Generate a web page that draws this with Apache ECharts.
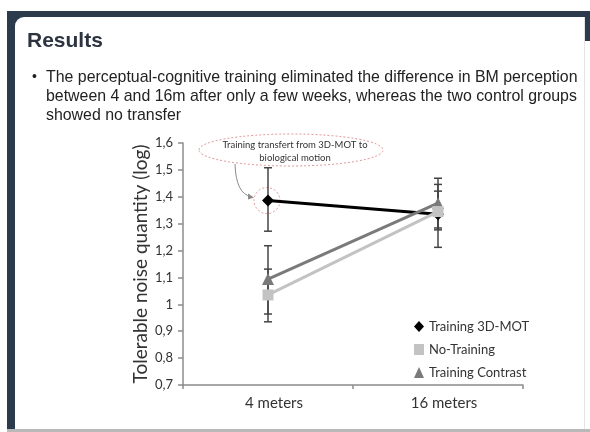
<!DOCTYPE html>
<html>
<head>
<meta charset="utf-8">
<script src="https://cdn.jsdelivr.net/npm/echarts@6/dist/echarts.min.js"></script>
<style>
html,body{margin:0;padding:0;background:#fff;}
#chart{width:590px;height:432px;}
</style>
</head>
<body>
<div id="chart"></div>
<script>
// ---- data ----
const categories = ['4 meters', '16 meters'];
const seriesNames = ['Training 3D-MOT', 'No-Training', 'Training Contrast'];
const mot = [1.386, 1.335];
const motLow = [1.272, 1.212];
const motHigh = [1.508, 1.446];
const noTrain = [1.035, 1.345];
const noTrainLow = [0.935, 1.277];
const noTrainHigh = [1.131, 1.421];
const contrast = [1.094, 1.376];
const contrastLow = [0.964, 1.284];
const contrastHigh = [1.218, 1.469];
const yMin = 0.7, yMax = 1.6, yStep = 0.1;
const titleText = 'Results';
const bulletLines = [
  'The perceptual-cognitive training eliminated the difference in BM perception',
  'between 4 and 16m after only a few weeks, whereas the two control groups',
  'showed no transfer'
];
const annotationLines = ['Training transfert from 3D-MOT to', 'biological motion'];

const chartFont = 'Lato';
const chart = echarts.init(document.getElementById('chart'));

function errData(lo, hi) {
  return categories.map((c, i) => [i, lo[i], hi[i]]);
}
function errSeries(lo, hi) {
  return {
    type: 'custom',
    silent: true,
    z: 1,
    data: errData(lo, hi),
    encode: { x: 0, y: [1, 2] },
    renderItem: function (params, api) {
      const x = api.value(0);
      const p1 = api.coord([x, api.value(1)]);
      const p2 = api.coord([x, api.value(2)]);
      const w = 4;
      const st = { stroke: '#444', lineWidth: 1.5 };
      return {
        type: 'group',
        children: [
          { type: 'line', shape: { x1: p1[0], y1: p1[1], x2: p2[0], y2: p2[1] }, style: st },
          { type: 'line', shape: { x1: p1[0] - w, y1: p1[1], x2: p1[0] + w, y2: p1[1] }, style: st },
          { type: 'line', shape: { x1: p2[0] - w, y1: p2[1], x2: p2[0] + w, y2: p2[1] }, style: st }
        ]
      };
    }
  };
}

const navy = '#2c3b4c';
const option = {
  animation: false,
  textStyle: { fontFamily: chartFont },
  grid: { left: 183, right: 67, top: 143, bottom: 47 },
  xAxis: {
    type: 'category',
    data: categories,
    boundaryGap: true,
    axisLine: { lineStyle: { color: '#8c8c8c', width: 1.5 } },
    axisTick: { show: true, length: 4, lineStyle: { color: '#8c8c8c', width: 1.5 } },
    axisLabel: { color: '#333', fontSize: 15, fontFamily: chartFont, margin: 11, padding: [0, 0, 0, 12] }
  },
  yAxis: {
    type: 'value',
    min: yMin, max: yMax, interval: yStep,
    name: 'Tolerable noise quantity (log)',
    nameLocation: 'middle',
    nameGap: 33,
    nameMoveOverlap: false,
    nameTextStyle: { color: '#333', fontSize: 19, fontFamily: chartFont },
    splitLine: { show: false },
    axisLine: { show: true, lineStyle: { color: '#8c8c8c', width: 1.5 } },
    axisTick: { show: true, length: 5, lineStyle: { color: '#8c8c8c', width: 1.5 } },
    axisLabel: {
      color: '#333', fontSize: 13, fontFamily: chartFont, margin: 10,
      formatter: v => String(Number(v.toFixed(1))).replace('.', ',')
    }
  },
  legend: {
    orient: 'vertical',
    left: 409, top: 315,
    itemGap: 10,
    itemWidth: 10, itemHeight: 11,
    textStyle: { color: '#333', fontSize: 13, fontFamily: chartFont },
    data: [
      { name: seriesNames[0], icon: 'diamond' },
      { name: seriesNames[1], icon: 'rect' },
      { name: seriesNames[2], icon: 'triangle' }
    ]
  },
  series: [
    errSeries(motLow, motHigh),
    errSeries(noTrainLow, noTrainHigh),
    errSeries(contrastLow, contrastHigh),
    {
      name: seriesNames[0], type: 'line', data: mot, z: 3,
      symbol: 'diamond', symbolSize: 12,
      itemStyle: { color: '#000' }, lineStyle: { color: '#000', width: 3 }
    },
    {
      name: seriesNames[2], type: 'line', data: contrast, z: 4,
      symbol: 'triangle', symbolSize: 12,
      itemStyle: { color: '#7a7a7a' }, lineStyle: { color: '#7a7a7a', width: 3 }
    },
    {
      name: seriesNames[1], type: 'line', data: noTrain, z: 5,
      symbol: 'rect', symbolSize: 11,
      itemStyle: { color: '#c3c3c3' }, lineStyle: { color: '#c3c3c3', width: 3 }
    }
  ]
};
chart.setOption(option);

// annotation positions derived from the chart's coordinate system
const ptMot = chart.convertToPixel({ seriesIndex: 3 }, [0, mot[0]]);

const graphics = [
  // slide frame
  { type: 'rect', z: -10, shape: { x: 7, y: 11, width: 583, height: 30 }, style: { fill: navy } },
  { type: 'rect', z: -10, shape: { x: 7, y: 11, width: 8, height: 418 }, style: { fill: navy } },
  { type: 'rect', z: -9, shape: { x: 15, y: 17, width: 569, height: 412, r: [9, 0, 0, 0] }, style: { fill: '#fff' } },
  { type: 'line', z: -8, shape: { x1: 584.5, y1: 17, x2: 584.5, y2: 429 }, style: { stroke: '#e4e4e4', lineWidth: 1 } },
  { type: 'rect', z: -8, shape: { x: 7, y: 429, width: 583, height: 3 }, style: { fill: '#b9b9b9' } },
  // title and bullet text
  { type: 'text', x: 27, y: 41, style: { text: titleText, font: 'bold 21px "Liberation Sans", Arial, sans-serif', fill: '#2c3440', verticalAlign: 'middle' } },
  { type: 'text', x: 32, y: 77, style: { text: '•', font: '14px "Liberation Sans", Arial, sans-serif', fill: '#222', verticalAlign: 'middle' } },
  ...bulletLines.map((t, i) => ({
    type: 'text', x: 46, y: 78 + i * 19,
    style: { text: t, font: '15.9px "Liberation Sans", Arial, sans-serif', fill: '#222', verticalAlign: 'middle' }
  })),
  // annotation ellipse + text
  { type: 'ellipse', shape: { cx: 291, cy: 150, rx: 92, ry: 16 }, style: { fill: 'none', stroke: '#e39a9a', lineWidth: 1, lineDash: [2, 2] } },
  ...annotationLines.map((t, i) => ({
    type: 'text', x: 295, y: 145 + i * 13,
    style: { text: t, font: '9.5px ' + chartFont, fill: '#333', align: 'center', verticalAlign: 'middle' }
  })),
  // circle around highlighted point
  { type: 'circle', shape: { cx: ptMot[0] - 1, cy: ptMot[1], r: 13 }, style: { fill: 'none', stroke: '#e39a9a', lineWidth: 1, lineDash: [2, 2] } },
  // curved arrow
  { type: 'bezierCurve', shape: { x1: 235, y1: 164, cpx1: 236, cpy1: 194, x2: ptMot[0] - 17, y2: ptMot[1] - 4 }, style: { stroke: '#8a8a8a', lineWidth: 1, fill: 'none' } },
  { type: 'polygon', shape: { points: [[ptMot[0] - 14, ptMot[1] - 3], [ptMot[0] - 20, ptMot[1] - 7], [ptMot[0] - 20, ptMot[1] - 1]] }, style: { fill: '#8a8a8a' } }
];
chart.setOption({ graphic: { elements: graphics } });
</script>
</body>
</html>
